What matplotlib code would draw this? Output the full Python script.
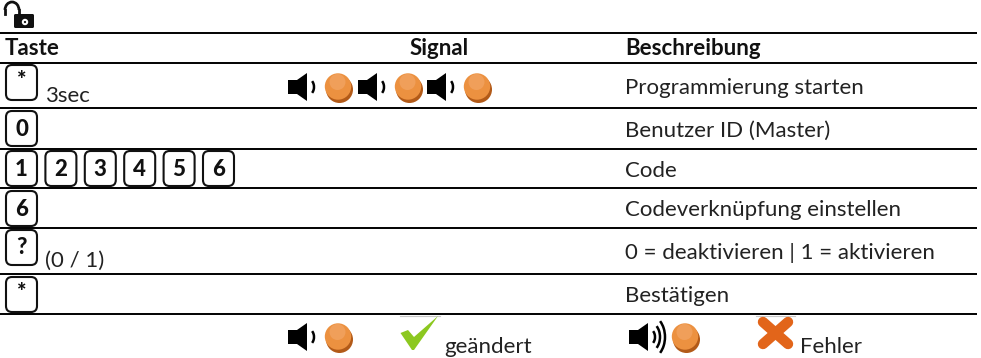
import matplotlib
matplotlib.use("Agg")
import matplotlib.pyplot as plt
from matplotlib.patches import FancyBboxPatch, Circle, Polygon, Arc

plt.rcParams['font.family'] = ['Lato', 'DejaVu Sans']

W, H = 981, 358
FS = 16
row_lines = [33, 62.5, 108, 149, 188, 228, 274, 314]
headers = [("Taste", 5), ("Signal", 410), ("Beschreibung", 625)]
descriptions = ["Programmierung starten", "Benutzer ID (Master)", "Code",
                "Codeverknüpfung einstellen", "0 = deaktivieren | 1 = aktivieren", "Bestätigen"]
desc_base = [94, 137, 177, 216, 259, 302]
key_rows = [(65, ["*"]), (111, ["0"]), (151, ["1", "2", "3", "4", "5", "6"]),
            (191, ["6"]), (230, ["?"]), (277, ["*"])]
notes = [("3sec", 45, 102), ("(0 / 1)", 45, 267)]
signal_speakers = [288, 358, 427]
signal_leds = [338, 408, 477]

fig = plt.figure(figsize=(W/100, H/100), dpi=100)
ax = fig.add_axes([0, 0, 1, 1])
ax.set_xlim(0, W); ax.set_ylim(H, 0); ax.axis("off")

def speaker(x, y, waves=1):
    ax.add_patch(Polygon([(x, y-7), (x+9, y-7), (x+19, y-14), (x+19, y+14), (x+9, y+7), (x, y+7)],
                         closed=True, fc="black", ec="none", zorder=3))
    for i in range(waves):
        r = 6 + i*5
        ax.add_patch(Arc((x+20, y), 2*r, 2*r+4+i*4, theta1=-55, theta2=55, color="black", lw=1.8, zorder=3))

def led(x, y):
    ax.add_patch(Circle((x+1.5, y+2.5), 13.5, fc="#b25a18", ec="none", zorder=3))
    ax.add_patch(Circle((x, y-0.5), 13.2, fc="#ec9140", ec="none", zorder=4))
    ax.add_patch(Circle((x-0.5, y-5), 8, fc="#f3a96c", ec="none", alpha=0.6, zorder=5))

def key(x, y, label):
    ax.add_patch(FancyBboxPatch((x, y), 31, 35, boxstyle="round,pad=0,rounding_size=6",
                                fc="white", ec="#111111", lw=1.5, zorder=3))
    dy = 15 if label == "*" else 18
    ax.text(x+15.5, y+dy, label, ha="center", va="center",
            fontsize=FS, fontweight="black", color="#111111", zorder=4)

for y in row_lines:
    ax.plot([0, 977], [y, y], color="black", lw=1.4, zorder=2, solid_capstyle="butt")

for t, x in headers:
    ax.text(x, 55, t, fontsize=FS, fontweight="bold", va="baseline", ha="left", color="#111111")

for t, y in zip(descriptions, desc_base):
    ax.text(625, y, t, fontsize=FS, va="baseline", ha="left", color="#222222")

for y, labels in key_rows:
    for i, lab in enumerate(labels):
        key(6 + i*39.4, y, lab)

for t, x, y in notes:
    ax.text(x, y, t, fontsize=FS, va="baseline", ha="left", color="#222222")

for sx, lx in zip(signal_speakers, signal_leds):
    speaker(sx, 87)
    led(lx, 87)

# legend row
speaker(288, 337); led(338, 337)
ax.plot([400, 440], [315.5, 315.5], color="#c8c8c8", lw=0.8, zorder=1)
ax.add_patch(Polygon([(400.5, 333), (408, 330), (414, 337), (438, 316), (414, 350), (412, 350)],
                     closed=True, fc="#8cc820", ec="none", zorder=3))
ax.text(444, 353, "geändert", fontsize=FS, va="baseline", ha="left", color="#222222")
speaker(629, 337, waves=3); led(685, 337)
ax.plot([756, 795], [315.5, 315.5], color="#c8c8c8", lw=0.8, zorder=1)
ax.plot([763, 788], [322, 344], color="#e2651a", lw=7.5, solid_capstyle="round", zorder=3)
ax.plot([763, 788], [344, 322], color="#e2651a", lw=7.5, solid_capstyle="round", zorder=3)
ax.text(800, 353, "Fehler", fontsize=FS, va="baseline", ha="left", color="#222222")

# padlock icon
ax.add_patch(FancyBboxPatch((14, 14), 20, 14, boxstyle="round,pad=0,rounding_size=1.5", fc="#111111", ec="none", zorder=3))
ax.add_patch(Circle((25, 22), 3.2, fc="white", ec="none", zorder=4))
ax.add_patch(Circle((25, 22), 1.1, fc="#111111", ec="none", zorder=5))
ax.add_patch(Arc((12, 10), 14, 16, theta1=180, theta2=360, color="#111111", lw=2, zorder=3))
ax.plot([5, 5], [10, 14], color="#111111", lw=2, zorder=3)
ax.plot([19, 19], [10, 14], color="#111111", lw=2, zorder=3)

fig.savefig("out.png", dpi=100)
